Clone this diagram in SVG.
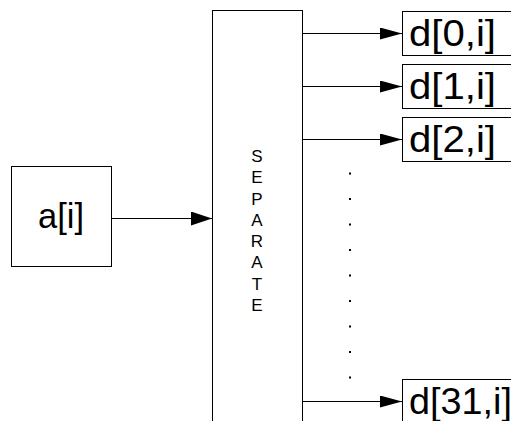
<svg xmlns="http://www.w3.org/2000/svg" width="511" height="421" viewBox="0 0 511 421">
  <style>
    .box { fill: #ffffff; stroke: #000000; stroke-width: 1; }
    .wire { fill: none; stroke: #000000; stroke-width: 1; }
    .lbl { font-family: "Liberation Sans", Arial, sans-serif; fill: #000000; }
    .sep { font-family: "Liberation Sans", Arial, sans-serif; font-size: 17px; fill: #000000; text-anchor: middle; }
    .dot { fill: #000000; }
  </style>
  <defs>
    <marker id="headBig" markerWidth="21" markerHeight="14" refX="21" refY="7" orient="auto" markerUnits="userSpaceOnUse">
      <path d="M0,0 L21,7 L0,14 Z" fill="#000000"/>
    </marker>
    <marker id="headSmall" markerWidth="22" markerHeight="12" refX="22" refY="6" orient="auto" markerUnits="userSpaceOnUse">
      <path d="M0,0 L22,6 L0,12 Z" fill="#000000"/>
    </marker>
  </defs>
  <rect width="511" height="421" fill="#ffffff"/>

  <g id="input">
    <rect class="box" x="11.5" y="166.5" width="100" height="100"/>
    <text class="lbl" x="38" y="228" font-size="35" textLength="46" lengthAdjust="spacingAndGlyphs">a[i]</text>
  </g>

  <g id="separate">
    <rect class="box" x="212.5" y="10.5" width="90" height="420"/>
    <text class="sep" x="257" y="162">S</text>
    <text class="sep" x="257" y="183.3">E</text>
    <text class="sep" x="257" y="204.6">P</text>
    <text class="sep" x="257" y="225.9">A</text>
    <text class="sep" x="257" y="247.1">R</text>
    <text class="sep" x="257" y="268.4">A</text>
    <text class="sep" x="257" y="289.7">T</text>
    <text class="sep" x="257" y="311">E</text>
  </g>

  <g id="out0">
    <rect class="box" x="402.5" y="11.5" width="112" height="44"/>
    <text class="lbl" x="409" y="46" font-size="37" textLength="87" lengthAdjust="spacingAndGlyphs">d[0,i]</text>
  </g>
  <g id="out1">
    <rect class="box" x="402.5" y="64.5" width="112" height="44"/>
    <text class="lbl" x="409" y="99" font-size="37" textLength="87" lengthAdjust="spacingAndGlyphs">d[1,i]</text>
  </g>
  <g id="out2">
    <rect class="box" x="402.5" y="117.5" width="112" height="44"/>
    <text class="lbl" x="409" y="152" font-size="37" textLength="87" lengthAdjust="spacingAndGlyphs">d[2,i]</text>
  </g>
  <g id="out31">
    <rect class="box" x="402.5" y="379.5" width="112" height="44"/>
    <text class="lbl" x="409" y="414" font-size="37" textLength="103" lengthAdjust="spacingAndGlyphs">d[31,i]</text>
  </g>

  <g id="ellipsis">
    <rect class="dot" x="349" y="172.5" width="2" height="2"/>
    <rect class="dot" x="349" y="198" width="2" height="2"/>
    <rect class="dot" x="349" y="223.5" width="2" height="2"/>
    <rect class="dot" x="349" y="249" width="2" height="2"/>
    <rect class="dot" x="349" y="274.5" width="2" height="2"/>
    <rect class="dot" x="349" y="300" width="2" height="2"/>
    <rect class="dot" x="349" y="325.5" width="2" height="2"/>
    <rect class="dot" x="349" y="351" width="2" height="2"/>
    <rect class="dot" x="349" y="376.5" width="2" height="2"/>
  </g>

  <g id="connectors">
    <line class="wire" x1="112" y1="218.5" x2="212" y2="218.5" marker-end="url(#headBig)"/>
    <line class="wire" x1="302" y1="33.5" x2="402" y2="33.5" marker-end="url(#headSmall)"/>
    <line class="wire" x1="302" y1="86.5" x2="402" y2="86.5" marker-end="url(#headSmall)"/>
    <line class="wire" x1="302" y1="139.5" x2="402" y2="139.5" marker-end="url(#headSmall)"/>
    <line class="wire" x1="302" y1="401.5" x2="402" y2="401.5" marker-end="url(#headSmall)"/>
  </g>
</svg>
